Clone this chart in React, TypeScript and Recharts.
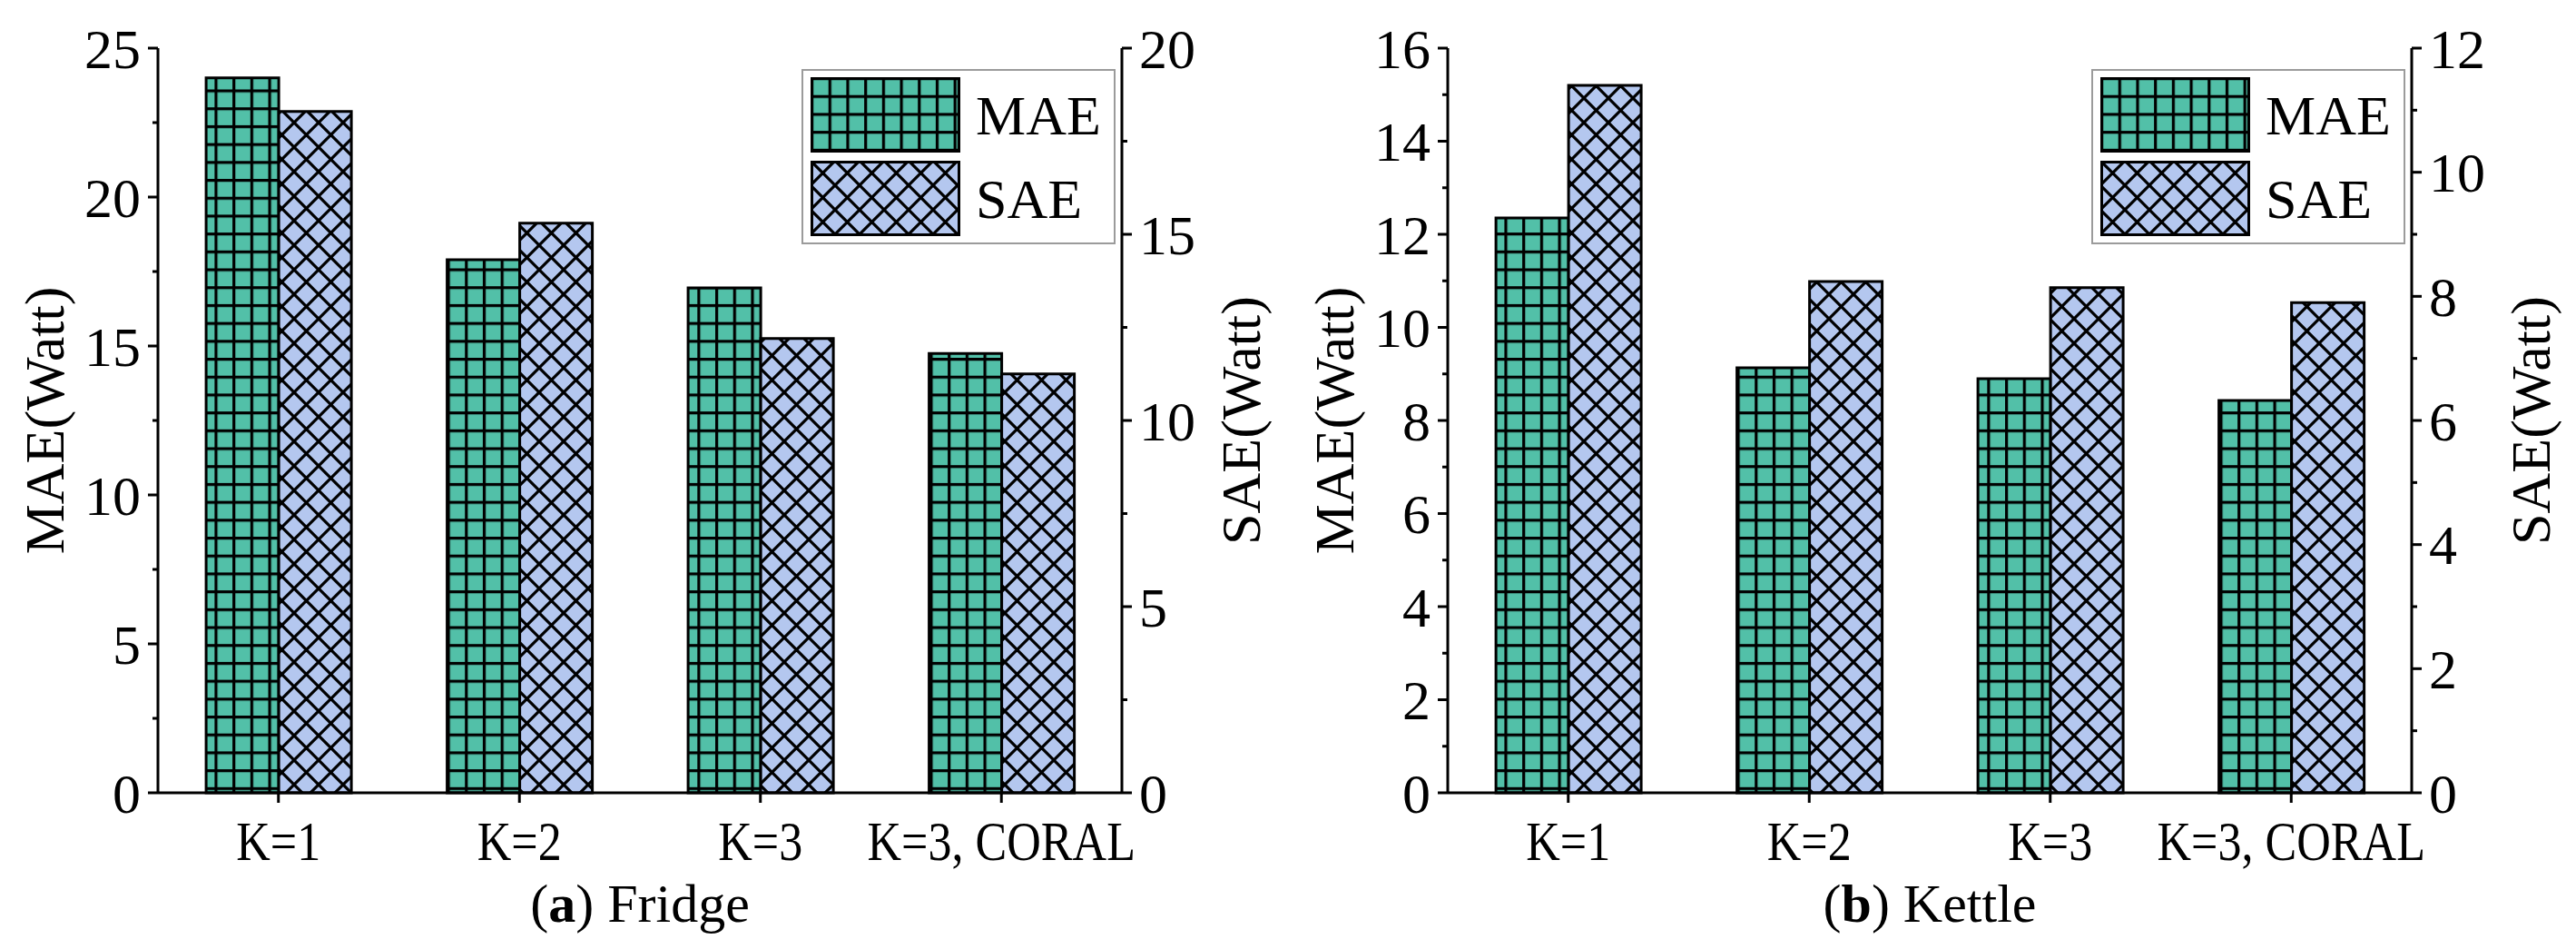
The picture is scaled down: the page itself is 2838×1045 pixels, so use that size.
import React from 'react';
import { BarChart, Bar, XAxis, YAxis, Legend } from 'recharts';

const categories = ['K=1', 'K=2', 'K=3', 'K=3, CORAL'];

const fridgeMae = [24.0, 17.9, 16.95, 14.75];
const fridgeSae = [18.3, 15.3, 12.2, 11.25];
const kettleMae = [12.35, 9.13, 8.9, 8.43];
const kettleSae = [11.4, 8.24, 8.14, 7.9];

const fridgeMaeTicks = [0, 5, 10, 15, 20, 25];
const fridgeMaeMinor = [2.5, 7.5, 12.5, 17.5, 22.5];
const fridgeSaeTicks = [0, 5, 10, 15, 20];
const fridgeSaeMinor = [2.5, 7.5, 12.5, 17.5];
const kettleMaeTicks = [0, 2, 4, 6, 8, 10, 12, 14, 16];
const kettleMaeMinor = [1, 3, 5, 7, 9, 11, 13, 15];
const kettleSaeTicks = [0, 2, 4, 6, 8, 10, 12];
const kettleSaeMinor = [1, 3, 5, 7, 9, 11];

const FONT = '"Liberation Serif", "Times New Roman", serif';
const TEAL = '#52c0a8';
const BLUE = '#b4c7ef';
const W = 1417;
const H = 1045;

// y ticks: major ticks get a label and a longer mark, minor ones just a short mark
const makeYTick = (side: 'left' | 'right', majors: number[]) => (props: any) => {
  const { x, y, payload } = props;
  const isMajor = majors.includes(payload.value);
  const dir = side === 'left' ? -1 : 1;
  const len = isMajor ? 11 : 6;
  return (
    <g>
      <line x1={x} y1={y} x2={x + dir * len} y2={y} stroke="#000" strokeWidth={3} />
      {isMajor && (
        <text
          x={x + dir * 19}
          y={y}
          dy="0.35em"
          textAnchor={side === 'left' ? 'end' : 'start'}
          fontSize={62}
          fill="#000"
        >
          {payload.value}
        </text>
      )}
    </g>
  );
};

// category labels are a bit condensed in the original
const XTick = (props: any) => {
  const { x, y, payload } = props;
  return (
    <text
      x={0}
      y={0}
      transform={`translate(${x}, ${y}) scale(0.84, 1)`}
      dy="0.71em"
      textAnchor="middle"
      fontSize={62}
      fill="#000"
    >
      {payload.value}
    </text>
  );
};

const makeAxisTitle = (text: string, dx: number) => (props: any) => {
  const vb = props.viewBox || { x: 0, y: 53, width: 174, height: 820 };
  const x = vb.x + dx;
  const y = vb.y + vb.height / 2;
  return (
    <text x={x} y={y} transform={`rotate(-90, ${x}, ${y})`} textAnchor="middle" fontSize={62} fill="#000">
      {text}
    </text>
  );
};

const makePanelTitle = (letter: string, name: string) => (props: any) => {
  const vb = props.viewBox || { x: 174, y: 873, width: 1062, height: 100 };
  return (
    <text x={vb.x + vb.width / 2} y={vb.y + 142} textAnchor="middle" fontSize={60} fill="#000">
      <tspan>(</tspan>
      <tspan fontWeight="bold">{letter}</tspan>
      <tspan>) {name}</tspan>
    </text>
  );
};

interface PanelProps {
  id: string;
  letter: string;
  name: string;
  mae: number[];
  sae: number[];
  maeTicks: number[];
  maeMinor: number[];
  saeTicks: number[];
  saeMinor: number[];
  left: number;
}

function Panel({ id, letter, name, mae, sae, maeTicks, maeMinor, saeTicks, saeMinor, left }: PanelProps) {
  const data = categories.map((c, i) => ({ name: c, mae: mae[i], sae: sae[i] }));
  const gridFill = `url(#${id}-grid)`;
  const crossFill = `url(#${id}-cross)`;

  const renderLegend = (props: any) => (
    <div
      style={{
        boxSizing: 'border-box',
        width: 346,
        height: 193,
        border: '2px solid #9b9b9b',
        background: '#fff',
        padding: '7px 8px',
      }}
    >
      {(props.payload || []).map((entry: any) => (
        <div key={entry.value} style={{ display: 'flex', alignItems: 'center', height: 83, marginBottom: 9 }}>
          <svg width={165} height={83} style={{ display: 'block' }}>
            <rect
              x={1.5}
              y={1.5}
              width={162}
              height={80}
              fill={entry.dataKey === 'mae' ? gridFill : crossFill}
              stroke="#000"
              strokeWidth={3}
            />
          </svg>
          <span style={{ marginLeft: 17, fontSize: 62, lineHeight: 1, color: '#000' }}>{entry.value}</span>
        </div>
      ))}
    </div>
  );

  return (
    <div style={{ position: 'absolute', left, top: 0, width: W, height: H }}>
      <BarChart
        width={W}
        height={H}
        data={data}
        margin={{ top: 53, right: 41, bottom: 72, left: 0 }}
        barCategoryGap="20%"
        barGap={0}
      >
        <defs>
          <pattern id={`${id}-grid`} width={19.7} height={19.7} patternUnits="userSpaceOnUse">
            <rect width={19.7} height={19.7} fill={TEAL} />
            <path d="M0 0H19.7M0 0V19.7" stroke="#000" strokeWidth={6.4} />
          </pattern>
          <pattern id={`${id}-cross`} width={27} height={27} patternUnits="userSpaceOnUse">
            <rect width={27} height={27} fill={BLUE} />
            <path
              d="M0 0L27 27M27 0L0 27M-3 24L3 30M24 -3L30 3M-3 3L3 -3M24 30L30 24"
              stroke="#000"
              strokeWidth={3.2}
            />
          </pattern>
        </defs>
        <XAxis
          dataKey="name"
          height={100}
          axisLine={{ stroke: '#000', strokeWidth: 3 }}
          tickLine={{ stroke: '#000', strokeWidth: 3 }}
          tickSize={11}
          tickMargin={19}
          tick={XTick}
          interval={0}
          label={makePanelTitle(letter, name)}
        />
        <XAxis
          xAxisId="top"
          orientation="top"
          dataKey="name"
          height={0}
          tick={false}
          tickLine={false}
          axisLine={{ stroke: '#000', strokeWidth: 3 }}
        />
        <YAxis
          yAxisId="left"
          width={174}
          type="number"
          domain={[0, maeTicks[maeTicks.length - 1]]}
          ticks={[...maeTicks, ...maeMinor]}
          interval={0}
          tickSize={0}
          tickMargin={0}
          tickLine={false}
          axisLine={{ stroke: '#000', strokeWidth: 3 }}
          tick={makeYTick('left', maeTicks)}
          label={makeAxisTitle('MAE(Watt)', 70)}
        />
        <YAxis
          yAxisId="right"
          orientation="right"
          width={140}
          type="number"
          domain={[0, saeTicks[saeTicks.length - 1]]}
          ticks={[...saeTicks, ...saeMinor]}
          interval={0}
          tickSize={0}
          tickMargin={0}
          tickLine={false}
          axisLine={{ stroke: '#000', strokeWidth: 3 }}
          tick={makeYTick('right', saeTicks)}
          label={makeAxisTitle('SAE(Watt)', 152)}
        />
        <Legend
          layout="vertical"
          align="center"
          verticalAlign="middle"
          wrapperStyle={{ left: 883, top: 76, width: 346, height: 193 }}
          content={renderLegend}
        />
        <Bar
          yAxisId="left"
          dataKey="mae"
          name="MAE"
          fill={gridFill}
          stroke="#000"
          strokeWidth={3}
          isAnimationActive={false}
        />
        <Bar
          yAxisId="right"
          dataKey="sae"
          name="SAE"
          fill={crossFill}
          stroke="#000"
          strokeWidth={3}
          isAnimationActive={false}
        />
      </BarChart>
    </div>
  );
}

export default function App() {
  return (
    <div
      style={{
        position: 'absolute',
        left: 0,
        top: 0,
        width: 2838,
        height: 1045,
        background: '#fff',
        fontFamily: FONT,
        overflow: 'hidden',
      }}
    >
      <Panel
        id="fridge"
        letter="a"
        name="Fridge"
        mae={fridgeMae}
        sae={fridgeSae}
        maeTicks={fridgeMaeTicks}
        maeMinor={fridgeMaeMinor}
        saeTicks={fridgeSaeTicks}
        saeMinor={fridgeSaeMinor}
        left={0}
      />
      <Panel
        id="kettle"
        letter="b"
        name="Kettle"
        mae={kettleMae}
        sae={kettleSae}
        maeTicks={kettleMaeTicks}
        maeMinor={kettleMaeMinor}
        saeTicks={kettleSaeTicks}
        saeMinor={kettleSaeMinor}
        left={1421}
      />
    </div>
  );
}
